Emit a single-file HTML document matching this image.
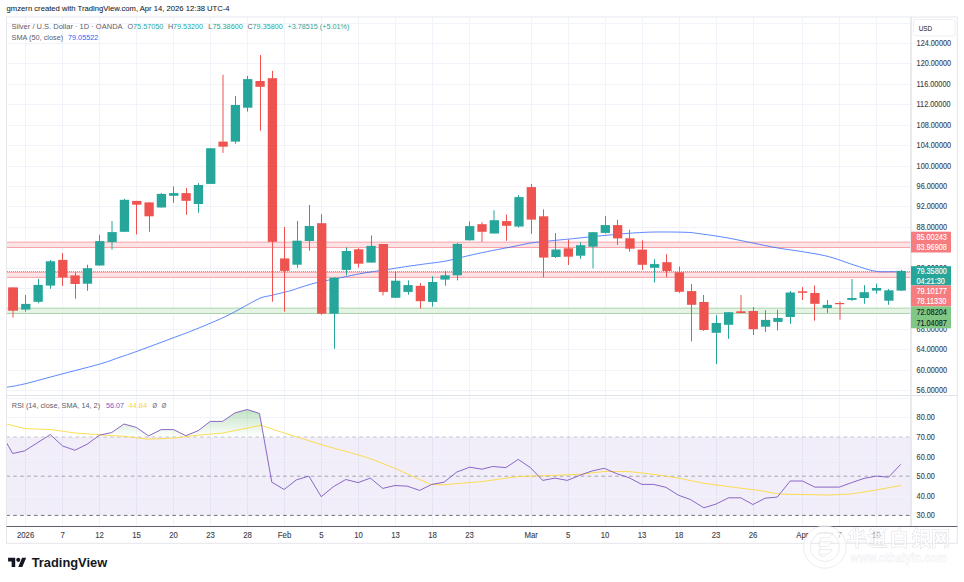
<!DOCTYPE html><html><head><meta charset="utf-8"><title>Silver chart</title><style>html,body{margin:0;padding:0;background:#fff;}body{width:964px;height:582px;overflow:hidden;}svg{display:block;}</style></head><body><svg width="964" height="582" viewBox="0 0 964 582" font-family='"Liberation Sans", sans-serif'><rect width="964" height="582" fill="#fff"/><defs><clipPath id="cm"><rect x="7.0" y="17.5" width="903.5" height="377.5"/></clipPath><clipPath id="cr"><rect x="7.0" y="396.0" width="903.5" height="130.0"/></clipPath><clipPath id="cob"><rect x="0" y="0" width="964" height="437.0"/></clipPath><linearGradient id="gob" gradientUnits="userSpaceOnUse" x1="0" y1="378.2" x2="0" y2="437.0"><stop offset="0" stop-color="#4caf50" stop-opacity="0.75"/><stop offset="1" stop-color="#4caf50" stop-opacity="0"/></linearGradient></defs><g clip-path="url(#cm)"><line x1="25.5" y1="17.0" x2="25.5" y2="395.5" stroke="#f0f3fa" stroke-width="1"/><line x1="62.5" y1="17.0" x2="62.5" y2="395.5" stroke="#f0f3fa" stroke-width="1"/><line x1="99.5" y1="17.0" x2="99.5" y2="395.5" stroke="#f0f3fa" stroke-width="1"/><line x1="136.5" y1="17.0" x2="136.5" y2="395.5" stroke="#f0f3fa" stroke-width="1"/><line x1="173.5" y1="17.0" x2="173.5" y2="395.5" stroke="#f0f3fa" stroke-width="1"/><line x1="210.5" y1="17.0" x2="210.5" y2="395.5" stroke="#f0f3fa" stroke-width="1"/><line x1="247.5" y1="17.0" x2="247.5" y2="395.5" stroke="#f0f3fa" stroke-width="1"/><line x1="284.5" y1="17.0" x2="284.5" y2="395.5" stroke="#f0f3fa" stroke-width="1"/><line x1="321.5" y1="17.0" x2="321.5" y2="395.5" stroke="#f0f3fa" stroke-width="1"/><line x1="358.5" y1="17.0" x2="358.5" y2="395.5" stroke="#f0f3fa" stroke-width="1"/><line x1="395.5" y1="17.0" x2="395.5" y2="395.5" stroke="#f0f3fa" stroke-width="1"/><line x1="432.5" y1="17.0" x2="432.5" y2="395.5" stroke="#f0f3fa" stroke-width="1"/><line x1="469.5" y1="17.0" x2="469.5" y2="395.5" stroke="#f0f3fa" stroke-width="1"/><line x1="531.5" y1="17.0" x2="531.5" y2="395.5" stroke="#f0f3fa" stroke-width="1"/><line x1="568.5" y1="17.0" x2="568.5" y2="395.5" stroke="#f0f3fa" stroke-width="1"/><line x1="605.5" y1="17.0" x2="605.5" y2="395.5" stroke="#f0f3fa" stroke-width="1"/><line x1="642.5" y1="17.0" x2="642.5" y2="395.5" stroke="#f0f3fa" stroke-width="1"/><line x1="679.5" y1="17.0" x2="679.5" y2="395.5" stroke="#f0f3fa" stroke-width="1"/><line x1="716.5" y1="17.0" x2="716.5" y2="395.5" stroke="#f0f3fa" stroke-width="1"/><line x1="753.5" y1="17.0" x2="753.5" y2="395.5" stroke="#f0f3fa" stroke-width="1"/><line x1="802.5" y1="17.0" x2="802.5" y2="395.5" stroke="#f0f3fa" stroke-width="1"/><line x1="839.5" y1="17.0" x2="839.5" y2="395.5" stroke="#f0f3fa" stroke-width="1"/><line x1="876.5" y1="17.0" x2="876.5" y2="395.5" stroke="#f0f3fa" stroke-width="1"/><line x1="6.5" y1="390.5" x2="911.0" y2="390.5" stroke="#f0f3fa" stroke-width="1"/><line x1="6.5" y1="370.5" x2="911.0" y2="370.5" stroke="#f0f3fa" stroke-width="1"/><line x1="6.5" y1="349.5" x2="911.0" y2="349.5" stroke="#f0f3fa" stroke-width="1"/><line x1="6.5" y1="329.5" x2="911.0" y2="329.5" stroke="#f0f3fa" stroke-width="1"/><line x1="6.5" y1="309.5" x2="911.0" y2="309.5" stroke="#f0f3fa" stroke-width="1"/><line x1="6.5" y1="288.5" x2="911.0" y2="288.5" stroke="#f0f3fa" stroke-width="1"/><line x1="6.5" y1="268.5" x2="911.0" y2="268.5" stroke="#f0f3fa" stroke-width="1"/><line x1="6.5" y1="247.5" x2="911.0" y2="247.5" stroke="#f0f3fa" stroke-width="1"/><line x1="6.5" y1="227.5" x2="911.0" y2="227.5" stroke="#f0f3fa" stroke-width="1"/><line x1="6.5" y1="206.5" x2="911.0" y2="206.5" stroke="#f0f3fa" stroke-width="1"/><line x1="6.5" y1="186.5" x2="911.0" y2="186.5" stroke="#f0f3fa" stroke-width="1"/><line x1="6.5" y1="166.5" x2="911.0" y2="166.5" stroke="#f0f3fa" stroke-width="1"/><line x1="6.5" y1="145.5" x2="911.0" y2="145.5" stroke="#f0f3fa" stroke-width="1"/><line x1="6.5" y1="125.5" x2="911.0" y2="125.5" stroke="#f0f3fa" stroke-width="1"/><line x1="6.5" y1="104.5" x2="911.0" y2="104.5" stroke="#f0f3fa" stroke-width="1"/><line x1="6.5" y1="84.5" x2="911.0" y2="84.5" stroke="#f0f3fa" stroke-width="1"/><line x1="6.5" y1="63.5" x2="911.0" y2="63.5" stroke="#f0f3fa" stroke-width="1"/><line x1="6.5" y1="43.5" x2="911.0" y2="43.5" stroke="#f0f3fa" stroke-width="1"/><line x1="6.5" y1="23.5" x2="911.0" y2="23.5" stroke="#f0f3fa" stroke-width="1"/><rect x="6.5" y="242.16" width="904.5" height="5.28" fill="#fde4e6"/><line x1="6.5" y1="242.16" x2="911.0" y2="242.16" stroke="#f7a1a7" stroke-width="1"/><line x1="6.5" y1="247.44" x2="911.0" y2="247.44" stroke="#f7a1a7" stroke-width="1"/><rect x="6.5" y="272.3" width="904.5" height="5.05" fill="#fde4e6"/><line x1="6.5" y1="272.3" x2="911.0" y2="272.3" stroke="#f7a1a7" stroke-width="1"/><line x1="6.5" y1="277.34" x2="911.0" y2="277.34" stroke="#f7a1a7" stroke-width="1"/><rect x="6.5" y="308.15" width="904.5" height="5.32" fill="#e6f4e6"/><line x1="6.5" y1="308.15" x2="911.0" y2="308.15" stroke="#a8d5aa" stroke-width="1"/><line x1="6.5" y1="313.46" x2="911.0" y2="313.46" stroke="#a8d5aa" stroke-width="1"/><polyline points="6.5,387.3 8.28,386.99 10.57,386.63 13.37,386.17 16.69,385.57 20.53,384.79 24.9,383.8 30.02,382.52 35.93,380.97 42.36,379.24 49.06,377.43 55.76,375.62 62.2,373.9 68.62,372.23 75.29,370.52 81.96,368.81 88.39,367.15 94.35,365.56 99.6,364.1 104.02,362.77 107.77,361.55 111.06,360.41 114.06,359.33 116.98,358.26 120,357.2 122.83,356.24 125.25,355.43 127.59,354.64 130.16,353.75 133.29,352.65 137.3,351.2 142.56,349.27 148.9,346.93 155.79,344.37 162.73,341.78 169.2,339.36 174.7,337.3 179.02,335.69 182.53,334.39 185.57,333.26 188.5,332.14 191.66,330.91 195.4,329.4 199.91,327.55 204.94,325.46 210.21,323.25 215.41,321.03 220.28,318.9 224.5,317 227.97,315.35 230.88,313.87 233.45,312.5 235.87,311.16 238.36,309.78 241.1,308.3 244.17,306.63 247.41,304.81 250.71,302.95 253.96,301.17 257.02,299.58 259.8,298.3 262.16,297.4 264.17,296.81 266,296.41 267.83,296.09 269.84,295.72 272.2,295.2 275.06,294.51 278.3,293.73 281.71,292.91 285.09,292.09 288.23,291.31 290.9,290.6 292.97,289.99 294.57,289.46 295.93,288.96 297.26,288.46 298.78,287.92 300.7,287.3 303,286.59 305.5,285.81 308.18,284.99 311.05,284.15 314.09,283.31 317.3,282.5 320.75,281.71 324.47,280.92 328.36,280.14 332.34,279.36 336.32,278.58 340.2,277.8 344.03,277.01 347.89,276.2 351.74,275.4 355.56,274.62 359.32,273.88 363,273.2 366.57,272.6 370.05,272.06 373.47,271.57 376.87,271.09 380.27,270.61 383.7,270.1 387.16,269.56 390.63,269 394.1,268.44 397.57,267.88 401.04,267.33 404.5,266.8 407.95,266.29 411.4,265.8 414.85,265.33 418.3,264.85 421.75,264.38 425.2,263.9 428.62,263.45 432.01,263.04 435.39,262.62 438.83,262.17 442.35,261.65 446,261 449.85,260.2 453.89,259.26 458.01,258.24 462.13,257.21 466.15,256.21 470,255.3 473.64,254.49 477.14,253.72 480.55,252.99 483.91,252.29 487.28,251.6 490.7,250.9 494.16,250.21 497.63,249.54 501.1,248.88 504.57,248.23 508.04,247.57 511.5,246.9 514.95,246.2 518.4,245.47 521.85,244.74 525.3,244.03 528.75,243.37 532.2,242.8 535.66,242.32 539.13,241.92 542.6,241.57 546.07,241.25 549.54,240.93 553,240.6 556.45,240.26 559.9,239.93 563.35,239.6 566.8,239.27 570.25,238.94 573.7,238.6 577.16,238.24 580.63,237.87 584.1,237.49 587.57,237.12 591.04,236.75 594.5,236.4 597.95,236.06 601.4,235.74 604.85,235.42 608.3,235.11 611.75,234.8 615.2,234.5 618.66,234.19 622.13,233.89 625.6,233.58 629.07,233.29 632.54,233.03 636,232.8 639.36,232.6 642.59,232.43 645.83,232.28 649.17,232.15 652.76,232.06 656.7,232 661.26,231.97 666.4,231.98 671.78,232.02 677.05,232.09 681.87,232.18 685.9,232.3 688.85,232.43 690.96,232.57 692.61,232.73 694.21,232.94 696.17,233.23 698.9,233.6 702.47,234.07 706.57,234.63 711.04,235.26 715.68,235.94 720.33,236.66 724.8,237.4 729.13,238.19 733.46,239.03 737.8,239.91 742.14,240.81 746.47,241.72 750.8,242.6 755.12,243.48 759.44,244.38 763.76,245.28 768.07,246.16 772.38,247.01 776.7,247.8 781.02,248.51 785.33,249.16 789.64,249.77 793.96,250.37 798.28,251.01 802.6,251.7 806.93,252.42 811.26,253.12 815.6,253.86 819.94,254.66 824.27,255.56 828.6,256.6 832.98,257.85 837.43,259.29 841.88,260.83 846.26,262.39 850.49,263.87 854.5,265.2 858.28,266.41 861.88,267.6 865.33,268.71 868.68,269.7 871.95,270.55 875.2,271.2 878.5,271.6 881.84,271.78 885.12,271.81 888.21,271.75 891.01,271.69 893.4,271.7 895.37,271.77 897,271.83 898.34,271.88 899.42,271.93 900.3,271.97 901,272" fill="none" stroke="#2962ff" stroke-width="0.9" stroke-opacity="0.85"/><line x1="13" y1="287.4" x2="13" y2="317.6" stroke="#ef5350" stroke-width="1"/><rect x="8.1" y="287.4" width="9.9" height="23.3" fill="#ef5350"/><line x1="25.5" y1="295" x2="25.5" y2="311.7" stroke="#26a69a" stroke-width="1"/><rect x="21.15" y="303.9" width="9.3" height="5.7" fill="#26a69a"/><line x1="38.5" y1="279.1" x2="38.5" y2="303.2" stroke="#26a69a" stroke-width="1"/><rect x="33.48" y="284.9" width="9.3" height="16.9" fill="#26a69a"/><line x1="50.5" y1="259.9" x2="50.5" y2="288.8" stroke="#26a69a" stroke-width="1"/><rect x="45.81" y="261.3" width="9.3" height="24.3" fill="#26a69a"/><line x1="62.5" y1="253" x2="62.5" y2="286" stroke="#ef5350" stroke-width="1"/><rect x="58.14" y="259.9" width="9.3" height="17.5" fill="#ef5350"/><line x1="75.5" y1="272.3" x2="75.5" y2="298.8" stroke="#ef5350" stroke-width="1"/><rect x="70.47" y="275.4" width="9.3" height="8.6" fill="#ef5350"/><line x1="87.5" y1="264.7" x2="87.5" y2="290.8" stroke="#26a69a" stroke-width="1"/><rect x="82.8" y="268.2" width="9.3" height="15.5" fill="#26a69a"/><line x1="99.5" y1="234.9" x2="99.5" y2="265.5" stroke="#26a69a" stroke-width="1"/><rect x="95.13" y="241.1" width="9.3" height="24.4" fill="#26a69a"/><line x1="112" y1="221" x2="112" y2="249.6" stroke="#26a69a" stroke-width="1"/><rect x="107.46" y="232.1" width="9.3" height="10" fill="#26a69a"/><line x1="124.5" y1="198.9" x2="124.5" y2="231.8" stroke="#26a69a" stroke-width="1"/><rect x="119.79" y="199.8" width="9.3" height="32" fill="#26a69a"/><line x1="136.5" y1="200.9" x2="136.5" y2="234.4" stroke="#ef5350" stroke-width="1"/><rect x="132.12" y="200.9" width="9.3" height="3.8" fill="#ef5350"/><line x1="149.5" y1="202.4" x2="149.5" y2="231.8" stroke="#ef5350" stroke-width="1"/><rect x="144.45" y="202.4" width="9.3" height="13.9" fill="#ef5350"/><line x1="161.5" y1="193.1" x2="161.5" y2="207.5" stroke="#26a69a" stroke-width="1"/><rect x="156.78" y="193.9" width="9.3" height="13.6" fill="#26a69a"/><line x1="173.5" y1="186.5" x2="173.5" y2="202.9" stroke="#26a69a" stroke-width="1"/><rect x="169.11" y="193.1" width="9.3" height="2.7" fill="#26a69a"/><line x1="186.5" y1="187.8" x2="186.5" y2="214.8" stroke="#ef5350" stroke-width="1"/><rect x="181.44" y="193.1" width="9.3" height="7.7" fill="#ef5350"/><line x1="198.5" y1="183.1" x2="198.5" y2="212.8" stroke="#26a69a" stroke-width="1"/><rect x="193.77" y="185" width="9.3" height="19" fill="#26a69a"/><line x1="210.5" y1="148" x2="210.5" y2="183.9" stroke="#26a69a" stroke-width="1"/><rect x="206.1" y="148.3" width="9.3" height="35.6" fill="#26a69a"/><line x1="223" y1="74.8" x2="223" y2="152.9" stroke="#ef5350" stroke-width="1"/><rect x="218.43" y="141.6" width="9.3" height="5.1" fill="#ef5350"/><line x1="235.5" y1="96.1" x2="235.5" y2="143.6" stroke="#26a69a" stroke-width="1"/><rect x="230.76" y="105" width="9.3" height="36.6" fill="#26a69a"/><line x1="247.5" y1="76" x2="247.5" y2="111.6" stroke="#26a69a" stroke-width="1"/><rect x="243.09" y="79.1" width="9.3" height="28.6" fill="#26a69a"/><line x1="260.5" y1="55" x2="260.5" y2="130.8" stroke="#ef5350" stroke-width="1"/><rect x="255.42" y="81" width="9.3" height="5.8" fill="#ef5350"/><line x1="272.5" y1="70.9" x2="272.5" y2="301.7" stroke="#ef5350" stroke-width="1"/><rect x="267.75" y="78.2" width="9.3" height="163.6" fill="#ef5350"/><line x1="284.5" y1="227.1" x2="284.5" y2="311.7" stroke="#ef5350" stroke-width="1"/><rect x="280.08" y="258.4" width="9.3" height="12.5" fill="#ef5350"/><line x1="297.5" y1="220.9" x2="297.5" y2="267.8" stroke="#26a69a" stroke-width="1"/><rect x="292.41" y="240.7" width="9.3" height="24" fill="#26a69a"/><line x1="309.5" y1="205" x2="309.5" y2="250.8" stroke="#26a69a" stroke-width="1"/><rect x="304.74" y="226" width="9.3" height="15" fill="#26a69a"/><line x1="321.5" y1="214.2" x2="321.5" y2="314.8" stroke="#ef5350" stroke-width="1"/><rect x="317.07" y="223.2" width="9.3" height="90.5" fill="#ef5350"/><line x1="334.5" y1="277" x2="334.5" y2="348.8" stroke="#26a69a" stroke-width="1"/><rect x="329.4" y="277.7" width="9.3" height="36" fill="#26a69a"/><line x1="346.5" y1="247.4" x2="346.5" y2="275.3" stroke="#26a69a" stroke-width="1"/><rect x="341.73" y="251" width="9.3" height="18.9" fill="#26a69a"/><line x1="358.5" y1="248.2" x2="358.5" y2="267.6" stroke="#ef5350" stroke-width="1"/><rect x="354.06" y="249.3" width="9.3" height="14.4" fill="#ef5350"/><line x1="371.5" y1="235.5" x2="371.5" y2="262.6" stroke="#26a69a" stroke-width="1"/><rect x="366.39" y="245.9" width="9.3" height="16.7" fill="#26a69a"/><line x1="383" y1="244" x2="383" y2="295.4" stroke="#ef5350" stroke-width="1"/><rect x="378.72" y="244" width="9.3" height="47.9" fill="#ef5350"/><line x1="395.5" y1="271.4" x2="395.5" y2="297.8" stroke="#26a69a" stroke-width="1"/><rect x="391.05" y="280.7" width="9.3" height="17.1" fill="#26a69a"/><line x1="408.5" y1="280.4" x2="408.5" y2="294.7" stroke="#26a69a" stroke-width="1"/><rect x="403.38" y="285.1" width="9.3" height="6.8" fill="#26a69a"/><line x1="420.5" y1="283" x2="420.5" y2="308.6" stroke="#ef5350" stroke-width="1"/><rect x="415.71" y="285.8" width="9.3" height="15.4" fill="#ef5350"/><line x1="432.5" y1="276.1" x2="432.5" y2="306.7" stroke="#26a69a" stroke-width="1"/><rect x="428.04" y="282" width="9.3" height="19.9" fill="#26a69a"/><line x1="445.5" y1="270.7" x2="445.5" y2="285.7" stroke="#26a69a" stroke-width="1"/><rect x="440.37" y="275.3" width="9.3" height="4.3" fill="#26a69a"/><line x1="457.5" y1="242.8" x2="457.5" y2="280.4" stroke="#26a69a" stroke-width="1"/><rect x="452.7" y="243.9" width="9.3" height="31.4" fill="#26a69a"/><line x1="469.5" y1="221.4" x2="469.5" y2="240.5" stroke="#26a69a" stroke-width="1"/><rect x="465.03" y="226.1" width="9.3" height="14.2" fill="#26a69a"/><line x1="482" y1="222.2" x2="482" y2="241.9" stroke="#ef5350" stroke-width="1"/><rect x="477.36" y="224.2" width="9.3" height="7.6" fill="#ef5350"/><line x1="494" y1="210.3" x2="494" y2="233.5" stroke="#26a69a" stroke-width="1"/><rect x="489.69" y="220.2" width="9.3" height="13.3" fill="#26a69a"/><line x1="506.5" y1="214.5" x2="506.5" y2="240.8" stroke="#ef5350" stroke-width="1"/><rect x="502.02" y="221.1" width="9.3" height="4.7" fill="#ef5350"/><line x1="518.5" y1="195.1" x2="518.5" y2="227.6" stroke="#26a69a" stroke-width="1"/><rect x="514.35" y="197.1" width="9.3" height="29.4" fill="#26a69a"/><line x1="531.5" y1="184" x2="531.5" y2="233.8" stroke="#ef5350" stroke-width="1"/><rect x="526.68" y="187.1" width="9.3" height="32.5" fill="#ef5350"/><line x1="543.5" y1="209.3" x2="543.5" y2="277.4" stroke="#ef5350" stroke-width="1"/><rect x="539.01" y="216.3" width="9.3" height="41.3" fill="#ef5350"/><line x1="555.5" y1="233" x2="555.5" y2="258" stroke="#26a69a" stroke-width="1"/><rect x="551.34" y="249.5" width="9.3" height="7.5" fill="#26a69a"/><line x1="568.5" y1="239.5" x2="568.5" y2="265" stroke="#ef5350" stroke-width="1"/><rect x="563.67" y="248.3" width="9.3" height="8.4" fill="#ef5350"/><line x1="580.5" y1="242.1" x2="580.5" y2="258.8" stroke="#26a69a" stroke-width="1"/><rect x="576" y="245.2" width="9.3" height="10.5" fill="#26a69a"/><line x1="593" y1="232.2" x2="593" y2="268.4" stroke="#26a69a" stroke-width="1"/><rect x="588.33" y="232.2" width="9.3" height="14.5" fill="#26a69a"/><line x1="605.5" y1="216.1" x2="605.5" y2="233.6" stroke="#26a69a" stroke-width="1"/><rect x="600.66" y="225.1" width="9.3" height="7.8" fill="#26a69a"/><line x1="617.5" y1="219.7" x2="617.5" y2="244.9" stroke="#ef5350" stroke-width="1"/><rect x="612.99" y="225.1" width="9.3" height="13.3" fill="#ef5350"/><line x1="629.5" y1="229.8" x2="629.5" y2="251.7" stroke="#ef5350" stroke-width="1"/><rect x="625.32" y="238.3" width="9.3" height="10.4" fill="#ef5350"/><line x1="642.5" y1="240.3" x2="642.5" y2="270" stroke="#ef5350" stroke-width="1"/><rect x="637.65" y="249.6" width="9.3" height="15.2" fill="#ef5350"/><line x1="654.5" y1="259.2" x2="654.5" y2="282.4" stroke="#26a69a" stroke-width="1"/><rect x="649.98" y="264.1" width="9.3" height="3.7" fill="#26a69a"/><line x1="666.5" y1="254.2" x2="666.5" y2="277" stroke="#ef5350" stroke-width="1"/><rect x="662.31" y="262.2" width="9.3" height="8.8" fill="#ef5350"/><line x1="679.5" y1="266.6" x2="679.5" y2="292.9" stroke="#ef5350" stroke-width="1"/><rect x="674.64" y="272.3" width="9.3" height="19.5" fill="#ef5350"/><line x1="691.5" y1="284.1" x2="691.5" y2="341.4" stroke="#ef5350" stroke-width="1"/><rect x="686.97" y="291.1" width="9.3" height="13.7" fill="#ef5350"/><line x1="703.5" y1="295" x2="703.5" y2="330.9" stroke="#ef5350" stroke-width="1"/><rect x="699.3" y="302" width="9.3" height="28" fill="#ef5350"/><line x1="716.5" y1="315.2" x2="716.5" y2="364.1" stroke="#26a69a" stroke-width="1"/><rect x="711.63" y="323" width="9.3" height="9.8" fill="#26a69a"/><line x1="728.5" y1="312.2" x2="728.5" y2="338.8" stroke="#26a69a" stroke-width="1"/><rect x="723.96" y="312.2" width="9.3" height="12.6" fill="#26a69a"/><line x1="741" y1="295" x2="741" y2="313.3" stroke="#ef5350" stroke-width="1"/><rect x="736.29" y="311.3" width="9.3" height="1.7" fill="#ef5350"/><line x1="753.5" y1="307.1" x2="753.5" y2="335" stroke="#ef5350" stroke-width="1"/><rect x="748.62" y="311" width="9.3" height="18.2" fill="#ef5350"/><line x1="765.5" y1="310.2" x2="765.5" y2="331.9" stroke="#26a69a" stroke-width="1"/><rect x="760.95" y="319.9" width="9.3" height="6.8" fill="#26a69a"/><line x1="777.5" y1="309.8" x2="777.5" y2="330.4" stroke="#26a69a" stroke-width="1"/><rect x="773.28" y="318" width="9.3" height="3.9" fill="#26a69a"/><line x1="790.5" y1="291" x2="790.5" y2="323.8" stroke="#26a69a" stroke-width="1"/><rect x="785.61" y="292.5" width="9.3" height="24.5" fill="#26a69a"/><line x1="802.5" y1="287.1" x2="802.5" y2="300" stroke="#ef5350" stroke-width="1"/><rect x="797.94" y="291.3" width="9.3" height="1.5" fill="#ef5350"/><line x1="814.5" y1="285.5" x2="814.5" y2="320.7" stroke="#ef5350" stroke-width="1"/><rect x="810.27" y="293" width="9.3" height="10.8" fill="#ef5350"/><line x1="827.5" y1="300" x2="827.5" y2="312.9" stroke="#26a69a" stroke-width="1"/><rect x="822.6" y="304.9" width="9.3" height="3.1" fill="#26a69a"/><line x1="840" y1="301.4" x2="840" y2="319.7" stroke="#ef5350" stroke-width="1"/><rect x="834.93" y="303" width="9.3" height="1.2" fill="#ef5350"/><line x1="852" y1="279" x2="852" y2="301.1" stroke="#26a69a" stroke-width="1"/><rect x="847.26" y="298" width="9.3" height="1.9" fill="#26a69a"/><line x1="864.5" y1="285.2" x2="864.5" y2="303.8" stroke="#26a69a" stroke-width="1"/><rect x="859.59" y="292.2" width="9.3" height="5.8" fill="#26a69a"/><line x1="876.5" y1="283.6" x2="876.5" y2="293.7" stroke="#26a69a" stroke-width="1"/><rect x="871.92" y="288" width="9.3" height="2.6" fill="#26a69a"/><line x1="888.5" y1="289" x2="888.5" y2="304.8" stroke="#26a69a" stroke-width="1"/><rect x="884.25" y="290.3" width="9.3" height="10.4" fill="#26a69a"/><line x1="901.5" y1="270" x2="901.5" y2="290.9" stroke="#26a69a" stroke-width="1"/><rect x="896.58" y="270.9" width="9.3" height="19.7" fill="#26a69a"/><line x1="7" y1="271.5" x2="911.0" y2="271.5" stroke="#26a69a" stroke-width="1" stroke-dasharray="1 1" stroke-opacity="0.65"/></g><g clip-path="url(#cr)"><line x1="25.5" y1="395.5" x2="25.5" y2="526.5" stroke="#f0f3fa" stroke-width="1"/><line x1="62.5" y1="395.5" x2="62.5" y2="526.5" stroke="#f0f3fa" stroke-width="1"/><line x1="99.5" y1="395.5" x2="99.5" y2="526.5" stroke="#f0f3fa" stroke-width="1"/><line x1="136.5" y1="395.5" x2="136.5" y2="526.5" stroke="#f0f3fa" stroke-width="1"/><line x1="173.5" y1="395.5" x2="173.5" y2="526.5" stroke="#f0f3fa" stroke-width="1"/><line x1="210.5" y1="395.5" x2="210.5" y2="526.5" stroke="#f0f3fa" stroke-width="1"/><line x1="247.5" y1="395.5" x2="247.5" y2="526.5" stroke="#f0f3fa" stroke-width="1"/><line x1="284.5" y1="395.5" x2="284.5" y2="526.5" stroke="#f0f3fa" stroke-width="1"/><line x1="321.5" y1="395.5" x2="321.5" y2="526.5" stroke="#f0f3fa" stroke-width="1"/><line x1="358.5" y1="395.5" x2="358.5" y2="526.5" stroke="#f0f3fa" stroke-width="1"/><line x1="395.5" y1="395.5" x2="395.5" y2="526.5" stroke="#f0f3fa" stroke-width="1"/><line x1="432.5" y1="395.5" x2="432.5" y2="526.5" stroke="#f0f3fa" stroke-width="1"/><line x1="469.5" y1="395.5" x2="469.5" y2="526.5" stroke="#f0f3fa" stroke-width="1"/><line x1="531.5" y1="395.5" x2="531.5" y2="526.5" stroke="#f0f3fa" stroke-width="1"/><line x1="568.5" y1="395.5" x2="568.5" y2="526.5" stroke="#f0f3fa" stroke-width="1"/><line x1="605.5" y1="395.5" x2="605.5" y2="526.5" stroke="#f0f3fa" stroke-width="1"/><line x1="642.5" y1="395.5" x2="642.5" y2="526.5" stroke="#f0f3fa" stroke-width="1"/><line x1="679.5" y1="395.5" x2="679.5" y2="526.5" stroke="#f0f3fa" stroke-width="1"/><line x1="716.5" y1="395.5" x2="716.5" y2="526.5" stroke="#f0f3fa" stroke-width="1"/><line x1="753.5" y1="395.5" x2="753.5" y2="526.5" stroke="#f0f3fa" stroke-width="1"/><line x1="802.5" y1="395.5" x2="802.5" y2="526.5" stroke="#f0f3fa" stroke-width="1"/><line x1="839.5" y1="395.5" x2="839.5" y2="526.5" stroke="#f0f3fa" stroke-width="1"/><line x1="876.5" y1="395.5" x2="876.5" y2="526.5" stroke="#f0f3fa" stroke-width="1"/><rect x="6.5" y="437" width="904.5" height="78.4" fill="#7e57c2" fill-opacity="0.1"/><line x1="6.5" y1="398.5" x2="911.0" y2="398.5" stroke="#f0f3fa" stroke-width="1"/><line x1="6.5" y1="417.5" x2="911.0" y2="417.5" stroke="#f0f3fa" stroke-width="1"/><line x1="6.5" y1="457.5" x2="911.0" y2="457.5" stroke="#f0f3fa" stroke-width="1"/><line x1="6.5" y1="496.5" x2="911.0" y2="496.5" stroke="#f0f3fa" stroke-width="1"/><line x1="6.3" y1="437" x2="911.0" y2="437" stroke="#c2c4cb" stroke-width="1" stroke-dasharray="3.6 3.32"/><line x1="6.3" y1="476.2" x2="911.0" y2="476.2" stroke="#a3a5ae" stroke-width="1" stroke-dasharray="3.6 3.32"/><line x1="6.3" y1="515.4" x2="911.0" y2="515.4" stroke="#6f727c" stroke-width="1" stroke-dasharray="3.6 3.32"/><polygon points="6.7,443 12.7,453.5 24.6,450.9 50.3,434.6 62.6,446 74.9,450.2 87.2,444.2 99.4,435.2 111.7,432.5 124,424 136.3,427.4 148.6,435.9 161.2,429.6 173.5,429.6 185.8,435.7 198,430.8 210.3,421.4 222.6,421.4 234.9,412.9 247.2,409.5 259.5,413.5 271.8,482.2 284.1,489.5 296.4,479.9 308.9,476.1 321.2,496.7 333.5,486.6 345.8,479.5 358.1,482.6 370.4,478.1 382.7,488.4 395,485.5 407.3,486.2 419.6,490.4 431.8,484.4 444.1,482.2 456.7,472.1 469.7,467.2 482,469.2 492.5,466.5 505.9,467.6 518.2,459.4 530.4,467.6 542.7,480.4 555,478.1 567.3,480.4 579.6,475.4 591.9,471 604.2,468.3 616.8,473.7 629,477.7 641.8,484.4 653.6,484.4 665.9,487.3 678.2,495.1 690.5,499.6 703.9,507.8 716.2,504 728.5,497.8 740.8,497.8 752.9,504.5 765.2,498.2 777.3,497.1 790.2,481 802.5,481 814.8,487.1 827.1,487.1 839.4,487.1 851.7,482.6 864,478.4 876.3,476.1 888.5,477.2 900.8,464.3 900.8,437 6.7,437" fill="url(#gob)" clip-path="url(#cob)"/><polyline points="6.7,424 24.6,428.5 51.4,429.6 74.9,433 99.4,434.8 124,436.3 147.5,439.2 173.5,438.1 198,435.2 222.6,433 247.2,428.1 260.6,425.2 284.1,433 300,437.9 321.2,444.6 358.1,454.9 370.4,458.7 395,468.3 411.7,475.9 430.7,484.4 444.1,484.8 460,483.3 481.3,481.7 517,476.6 542.7,475.9 579.6,474.3 604,471.5 629,471.6 653.6,474.3 678.2,478.1 703.9,483.3 728.5,486.6 760,490.6 779,494 828.2,495.1 850.6,494 876.3,490 900.8,485.5" fill="none" stroke="#fdd835" stroke-width="0.85"/><polyline points="6.7,443 12.7,453.5 24.6,450.9 50.3,434.6 62.6,446 74.9,450.2 87.2,444.2 99.4,435.2 111.7,432.5 124,424 136.3,427.4 148.6,435.9 161.2,429.6 173.5,429.6 185.8,435.7 198,430.8 210.3,421.4 222.6,421.4 234.9,412.9 247.2,409.5 259.5,413.5 271.8,482.2 284.1,489.5 296.4,479.9 308.9,476.1 321.2,496.7 333.5,486.6 345.8,479.5 358.1,482.6 370.4,478.1 382.7,488.4 395,485.5 407.3,486.2 419.6,490.4 431.8,484.4 444.1,482.2 456.7,472.1 469.7,467.2 482,469.2 492.5,466.5 505.9,467.6 518.2,459.4 530.4,467.6 542.7,480.4 555,478.1 567.3,480.4 579.6,475.4 591.9,471 604.2,468.3 616.8,473.7 629,477.7 641.8,484.4 653.6,484.4 665.9,487.3 678.2,495.1 690.5,499.6 703.9,507.8 716.2,504 728.5,497.8 740.8,497.8 752.9,504.5 765.2,498.2 777.3,497.1 790.2,481 802.5,481 814.8,487.1 827.1,487.1 839.4,487.1 851.7,482.6 864,478.4 876.3,476.1 888.5,477.2 900.8,464.3" fill="none" stroke="#7e57c2" stroke-width="0.9"/></g><rect x="6.5" y="17.0" width="950.8" height="526.3" fill="none" stroke="#e6e7eb" stroke-width="1"/><line x1="911.0" y1="17.0" x2="911.0" y2="526.5" stroke="#e0e3eb" stroke-width="1.5"/><line x1="6.5" y1="395.5" x2="957.3" y2="395.5" stroke="#e0e3eb" stroke-width="1"/><line x1="6.5" y1="526.5" x2="957.3" y2="526.5" stroke="#5d606b" stroke-width="1"/><rect x="913.4" y="19.4" width="41.6" height="16.5" rx="2.5" fill="#fff" stroke="#edeff4" stroke-width="1"/><text x="918.7" y="30.6" font-size="8" fill="#131722" textLength="13.5" lengthAdjust="spacingAndGlyphs">USD</text><text x="916.6" y="46" font-size="8.2" fill="#3e414b" stroke="#3e414b" stroke-width="0.12" textLength="34.5" lengthAdjust="spacingAndGlyphs">124.00000</text><text x="916.6" y="66.43" font-size="8.2" fill="#3e414b" stroke="#3e414b" stroke-width="0.12" textLength="34.5" lengthAdjust="spacingAndGlyphs">120.00000</text><text x="916.6" y="86.86" font-size="8.2" fill="#3e414b" stroke="#3e414b" stroke-width="0.12" textLength="33.96" lengthAdjust="spacingAndGlyphs">116.00000</text><text x="916.6" y="107.28" font-size="8.2" fill="#3e414b" stroke="#3e414b" stroke-width="0.12" textLength="33.96" lengthAdjust="spacingAndGlyphs">112.00000</text><text x="916.6" y="127.71" font-size="8.2" fill="#3e414b" stroke="#3e414b" stroke-width="0.12" textLength="34.5" lengthAdjust="spacingAndGlyphs">108.00000</text><text x="916.6" y="148.14" font-size="8.2" fill="#3e414b" stroke="#3e414b" stroke-width="0.12" textLength="34.5" lengthAdjust="spacingAndGlyphs">104.00000</text><text x="916.6" y="168.57" font-size="8.2" fill="#3e414b" stroke="#3e414b" stroke-width="0.12" textLength="34.5" lengthAdjust="spacingAndGlyphs">100.00000</text><text x="916.6" y="189" font-size="8.2" fill="#3e414b" stroke="#3e414b" stroke-width="0.12" textLength="30.44" lengthAdjust="spacingAndGlyphs">96.00000</text><text x="916.6" y="209.42" font-size="8.2" fill="#3e414b" stroke="#3e414b" stroke-width="0.12" textLength="30.44" lengthAdjust="spacingAndGlyphs">92.00000</text><text x="916.6" y="229.85" font-size="8.2" fill="#3e414b" stroke="#3e414b" stroke-width="0.12" textLength="30.44" lengthAdjust="spacingAndGlyphs">88.00000</text><text x="916.6" y="270.71" font-size="8.2" fill="#3e414b" stroke="#3e414b" stroke-width="0.12" textLength="30.44" lengthAdjust="spacingAndGlyphs">80.00000</text><text x="916.6" y="331.99" font-size="8.2" fill="#3e414b" stroke="#3e414b" stroke-width="0.12" textLength="30.44" lengthAdjust="spacingAndGlyphs">68.00000</text><text x="916.6" y="352.42" font-size="8.2" fill="#3e414b" stroke="#3e414b" stroke-width="0.12" textLength="30.44" lengthAdjust="spacingAndGlyphs">64.00000</text><text x="916.6" y="372.85" font-size="8.2" fill="#3e414b" stroke="#3e414b" stroke-width="0.12" textLength="30.44" lengthAdjust="spacingAndGlyphs">60.00000</text><text x="916.6" y="393.28" font-size="8.2" fill="#3e414b" stroke="#3e414b" stroke-width="0.12" textLength="30.44" lengthAdjust="spacingAndGlyphs">56.00000</text><rect x="911" y="231.7" width="40" height="20.8" fill="#f77c80"/><text x="916.4" y="239.9" font-size="8.2" fill="#fff" stroke="#fff" stroke-width="0.12" textLength="30.44" lengthAdjust="spacingAndGlyphs">85.00243</text><text x="916.4" y="250.3" font-size="8.2" fill="#fff" stroke="#fff" stroke-width="0.12" textLength="30.44" lengthAdjust="spacingAndGlyphs">83.96908</text><rect x="911" y="266.2" width="40" height="19.2" fill="#26a69a"/><text x="916.4" y="274" font-size="8.2" fill="#fff" stroke="#fff" stroke-width="0.12" textLength="30.44" lengthAdjust="spacingAndGlyphs">79.35800</text><text x="916.4" y="283.6" font-size="8.2" fill="#fff" stroke="#fff" stroke-width="0.12" textLength="28.41" lengthAdjust="spacingAndGlyphs">04:21:30</text><rect x="911" y="285.4" width="40" height="21" fill="#f77c80"/><text x="916.4" y="293.65" font-size="8.2" fill="#fff" stroke="#fff" stroke-width="0.12" textLength="30.44" lengthAdjust="spacingAndGlyphs">79.10177</text><text x="916.4" y="304.15" font-size="8.2" fill="#fff" stroke="#fff" stroke-width="0.12" textLength="29.9" lengthAdjust="spacingAndGlyphs">78.11330</text><rect x="911" y="306.4" width="40" height="21.9" fill="#81c784"/><text x="916.4" y="314.88" font-size="8.2" fill="#131722" stroke="#131722" stroke-width="0.12" textLength="30.44" lengthAdjust="spacingAndGlyphs">72.08204</text><text x="916.4" y="325.83" font-size="8.2" fill="#131722" stroke="#131722" stroke-width="0.12" textLength="30.44" lengthAdjust="spacingAndGlyphs">71.04087</text><text x="916.6" y="420.4" font-size="8.2" fill="#3e414b" stroke="#3e414b" stroke-width="0.12" textLength="18.26" lengthAdjust="spacingAndGlyphs">80.00</text><text x="916.6" y="440" font-size="8.2" fill="#3e414b" stroke="#3e414b" stroke-width="0.12" textLength="18.26" lengthAdjust="spacingAndGlyphs">70.00</text><text x="916.6" y="459.6" font-size="8.2" fill="#3e414b" stroke="#3e414b" stroke-width="0.12" textLength="18.26" lengthAdjust="spacingAndGlyphs">60.00</text><text x="916.6" y="479.2" font-size="8.2" fill="#3e414b" stroke="#3e414b" stroke-width="0.12" textLength="18.26" lengthAdjust="spacingAndGlyphs">50.00</text><text x="916.6" y="498.8" font-size="8.2" fill="#3e414b" stroke="#3e414b" stroke-width="0.12" textLength="18.26" lengthAdjust="spacingAndGlyphs">40.00</text><text x="916.6" y="518.4" font-size="8.2" fill="#3e414b" stroke="#3e414b" stroke-width="0.12" textLength="18.26" lengthAdjust="spacingAndGlyphs">30.00</text><text x="16.94" y="537.9" font-size="8.2" fill="#3e414b" stroke="#3e414b" stroke-width="0.12" textLength="17.33" lengthAdjust="spacingAndGlyphs">2026</text><text x="60.42" y="537.9" font-size="8.2" fill="#3e414b" stroke="#3e414b" stroke-width="0.12" textLength="4.33" lengthAdjust="spacingAndGlyphs">7</text><text x="95.25" y="537.9" font-size="8.2" fill="#3e414b" stroke="#3e414b" stroke-width="0.12" textLength="8.66" lengthAdjust="spacingAndGlyphs">12</text><text x="132.24" y="537.9" font-size="8.2" fill="#3e414b" stroke="#3e414b" stroke-width="0.12" textLength="8.66" lengthAdjust="spacingAndGlyphs">15</text><text x="169.23" y="537.9" font-size="8.2" fill="#3e414b" stroke="#3e414b" stroke-width="0.12" textLength="8.66" lengthAdjust="spacingAndGlyphs">20</text><text x="206.22" y="537.9" font-size="8.2" fill="#3e414b" stroke="#3e414b" stroke-width="0.12" textLength="8.66" lengthAdjust="spacingAndGlyphs">23</text><text x="243.21" y="537.9" font-size="8.2" fill="#3e414b" stroke="#3e414b" stroke-width="0.12" textLength="8.66" lengthAdjust="spacingAndGlyphs">28</text><text x="277.82" y="537.9" font-size="8.2" fill="#3e414b" stroke="#3e414b" stroke-width="0.12" textLength="13.42" lengthAdjust="spacingAndGlyphs">Feb</text><text x="319.35" y="537.9" font-size="8.2" fill="#3e414b" stroke="#3e414b" stroke-width="0.12" textLength="4.33" lengthAdjust="spacingAndGlyphs">5</text><text x="354.18" y="537.9" font-size="8.2" fill="#3e414b" stroke="#3e414b" stroke-width="0.12" textLength="8.66" lengthAdjust="spacingAndGlyphs">10</text><text x="391.17" y="537.9" font-size="8.2" fill="#3e414b" stroke="#3e414b" stroke-width="0.12" textLength="8.66" lengthAdjust="spacingAndGlyphs">13</text><text x="428.16" y="537.9" font-size="8.2" fill="#3e414b" stroke="#3e414b" stroke-width="0.12" textLength="8.66" lengthAdjust="spacingAndGlyphs">18</text><text x="465.15" y="537.9" font-size="8.2" fill="#3e414b" stroke="#3e414b" stroke-width="0.12" textLength="8.66" lengthAdjust="spacingAndGlyphs">23</text><text x="524.42" y="537.9" font-size="8.2" fill="#3e414b" stroke="#3e414b" stroke-width="0.12" textLength="13.42" lengthAdjust="spacingAndGlyphs">Mar</text><text x="565.95" y="537.9" font-size="8.2" fill="#3e414b" stroke="#3e414b" stroke-width="0.12" textLength="4.33" lengthAdjust="spacingAndGlyphs">5</text><text x="600.78" y="537.9" font-size="8.2" fill="#3e414b" stroke="#3e414b" stroke-width="0.12" textLength="8.66" lengthAdjust="spacingAndGlyphs">10</text><text x="637.77" y="537.9" font-size="8.2" fill="#3e414b" stroke="#3e414b" stroke-width="0.12" textLength="8.66" lengthAdjust="spacingAndGlyphs">13</text><text x="674.76" y="537.9" font-size="8.2" fill="#3e414b" stroke="#3e414b" stroke-width="0.12" textLength="8.66" lengthAdjust="spacingAndGlyphs">18</text><text x="711.75" y="537.9" font-size="8.2" fill="#3e414b" stroke="#3e414b" stroke-width="0.12" textLength="8.66" lengthAdjust="spacingAndGlyphs">23</text><text x="748.74" y="537.9" font-size="8.2" fill="#3e414b" stroke="#3e414b" stroke-width="0.12" textLength="8.66" lengthAdjust="spacingAndGlyphs">26</text><text x="796.33" y="537.9" font-size="8.2" fill="#3e414b" stroke="#3e414b" stroke-width="0.12" textLength="12.12" lengthAdjust="spacingAndGlyphs">Apr</text><text x="837.21" y="537.9" font-size="8.2" fill="#3e414b" stroke="#3e414b" stroke-width="0.12" textLength="4.33" lengthAdjust="spacingAndGlyphs">7</text><text x="872.04" y="537.9" font-size="8.2" fill="#3e414b" stroke="#3e414b" stroke-width="0.12" textLength="8.66" lengthAdjust="spacingAndGlyphs">10</text><text x="11.5" y="29.1" font-size="7.8" fill="#5d606b" textLength="111.1" lengthAdjust="spacingAndGlyphs" >Silver / U.S. Dollar · 1D · OANDA</text><text x="127.4" y="29.1" font-size="7.8" fill="#5d606b" textLength="36" lengthAdjust="spacingAndGlyphs">O<tspan fill="#26a69a">75.57050</tspan></text><text x="167.9" y="29.1" font-size="7.8" fill="#5d606b" textLength="35.2" lengthAdjust="spacingAndGlyphs">H<tspan fill="#26a69a">79.53200</tspan></text><text x="208.3" y="29.1" font-size="7.8" fill="#5d606b" textLength="34.6" lengthAdjust="spacingAndGlyphs">L<tspan fill="#26a69a">75.38600</tspan></text><text x="247.4" y="29.1" font-size="7.8" fill="#5d606b" textLength="35.3" lengthAdjust="spacingAndGlyphs">C<tspan fill="#26a69a">79.35800</tspan></text><text x="287.5" y="29.1" font-size="7.8" fill="#26a69a" textLength="61.8" lengthAdjust="spacingAndGlyphs" >+3.78515 (+5.01%)</text><text x="11.5" y="39.8" font-size="7.8" fill="#5d606b" textLength="51.7" lengthAdjust="spacingAndGlyphs" >SMA (50, close)</text><text x="68.1" y="39.8" font-size="7.8" fill="#2962ff" textLength="30.1" lengthAdjust="spacingAndGlyphs" >79.05522</text><text x="11.7" y="407.7" font-size="7.8" fill="#5d606b" textLength="88.4" lengthAdjust="spacingAndGlyphs" >RSI (14, close, SMA, 14, 2)</text><text x="105.9" y="407.7" font-size="7.8" fill="#7e57c2" textLength="18.3" lengthAdjust="spacingAndGlyphs" >56.07</text><text x="128.4" y="407.7" font-size="7.8" fill="#fdd835" textLength="18.8" lengthAdjust="spacingAndGlyphs" >44.84</text><text x="152.6" y="408" font-size="7.4" fill="#5d606b" textLength="4.6" lengthAdjust="spacingAndGlyphs" >Ø</text><text x="161.8" y="408" font-size="7.4" fill="#5d606b" textLength="4.6" lengthAdjust="spacingAndGlyphs" >Ø</text><text x="6.6" y="11.2" font-size="7.9" fill="#131722" textLength="223" lengthAdjust="spacingAndGlyphs" stroke="#131722" stroke-width="0.05">gmzern created with TradingView.com, Apr 14, 2026 12:38 UTC-4</text><g transform="translate(8.1,555.8) scale(0.508)" fill="#131722"><path d="M14 22H7V11H0V4h14v18zM28 22h-8l7.5-18h8L28 22z"/><circle cx="20" cy="8" r="4"/></g><text x="31.7" y="567.2" font-size="13.2" fill="#131722" textLength="75.5" lengthAdjust="spacingAndGlyphs" font-weight="bold">TradingView</text><g opacity="0.72"><path d="M803.6,546.9a21.3,21.3 0 1,0 42.6,0a21.3,21.3 0 1,0 -42.6,0ZM810.3,546.9a14.6,14.6 0 1,1 29.2,0a14.6,14.6 0 1,1 -29.2,0Z" fill="#fff" fill-rule="evenodd" stroke="#d4d5dd" stroke-width="0.6"/><path d="M816.3,533.1999999999999H833.4L828.9,537.6999999999999H820.4V556.4H825.9" fill="none" stroke="#d4d5dd" stroke-width="0.6"/><path d="M819.1,541.6999999999999H832.4L828.1,546.4H819.1ZM819.1,549.5H832.4L828.1,554.3H819.1Z" fill="#fff" stroke="#d4d5dd" stroke-width="0.6"/><g transform="translate(849.0,529.2) scale(1.02,1.0)" fill="none" stroke-linecap="square"><path d="M5 0L1 5M3 3.5V9.5M8 0V6.5Q8 8 10 8H14.5M13.5 2.5L9 5.5M0 11.5H16M8 9V18" stroke="#d4d5dd" stroke-width="3.0"/><path d="M5 0L1 5M3 3.5V9.5M8 0V6.5Q8 8 10 8H14.5M13.5 2.5L9 5.5M0 11.5H16M8 9V18" stroke="#fff" stroke-width="1.9"/></g><g transform="translate(869.2,529.2) scale(1.02,1.0)" fill="none" stroke-linecap="square"><path d="M6 1H14L11 3.5M6 4.5V14M6 4.5H14V13Q14 14 13 14M6 8H14M6 11H14M10 4.5V14M1.5 1L3 3M0 6.5H3V13M0.5 15.5Q3 17.5 6 17.2H16" stroke="#d4d5dd" stroke-width="3.0"/><path d="M6 1H14L11 3.5M6 4.5V14M6 4.5H14V13Q14 14 13 14M6 8H14M6 11H14M10 4.5V14M1.5 1L3 3M0 6.5H3V13M0.5 15.5Q3 17.5 6 17.2H16" stroke="#fff" stroke-width="1.9"/></g><g transform="translate(891.0,529.2) scale(1.02,1.0)" fill="none" stroke-linecap="square"><path d="M8.5 0L7 2.5M2 3.5V17.5M2 3.5H14V17.5M2 10H14M2 16.5H14" stroke="#d4d5dd" stroke-width="3.0"/><path d="M8.5 0L7 2.5M2 3.5V17.5M2 3.5H14V17.5M2 10H14M2 16.5H14" stroke="#fff" stroke-width="1.9"/></g><g transform="translate(912.8,529.2) scale(1.02,1.0)" fill="none" stroke-linecap="square"><path d="M3.5 0L1 4.5M1.5 4.5H6M1 8.5H6M3.5 4.5V16.5M1 17L6 14.5M8.5 1.5H15V10H8.5M8.5 5.5H15M8.5 1.5V17.5L12 15M11 10L16 17.5" stroke="#d4d5dd" stroke-width="3.0"/><path d="M3.5 0L1 4.5M1.5 4.5H6M1 8.5H6M3.5 4.5V16.5M1 17L6 14.5M8.5 1.5H15V10H8.5M8.5 5.5H15M8.5 1.5V17.5L12 15M11 10L16 17.5" stroke="#fff" stroke-width="1.9"/></g><g transform="translate(932.3,529.2) scale(1.02,1.0)" fill="none" stroke-linecap="square"><path d="M1.5 18V1.5H15V16Q15 17.5 13 17.5M4 5L7.5 12.5M7.5 5L4 13M9 5L12.5 12.5M12.5 5L9 13" stroke="#d4d5dd" stroke-width="3.0"/><path d="M1.5 18V1.5H15V16Q15 17.5 13 17.5M4 5L7.5 12.5M7.5 5L4 13M9 5L12.5 12.5M12.5 5L9 13" stroke="#fff" stroke-width="1.9"/></g><text x="850.5" y="562.2" font-size="12.6" font-weight="bold" fill="#fff" stroke="#e2e3ea" stroke-width="0.35" textLength="96.5" lengthAdjust="spacingAndGlyphs">www.ctbaiyin.com</text></g></svg></body></html>
